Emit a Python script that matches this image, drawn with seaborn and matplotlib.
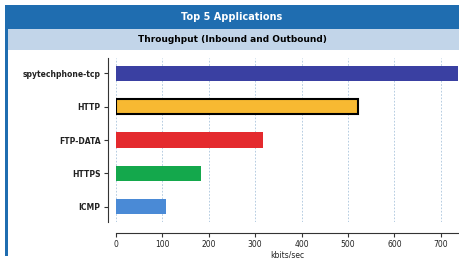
import matplotlib
matplotlib.use("Agg")
import matplotlib.pyplot as plt
import seaborn as sns
import pandas as pd
from matplotlib.patches import Rectangle

# data
apps = ["spytechphone-tcp", "HTTP", "FTP-DATA", "HTTPS", "ICMP"]
kbits = [736, 522, 316, 184, 108]
bar_colors = ["#3a40a2", "#f7b932", "#e42a2e", "#14a84c", "#4a8ad6"]
xticks = [0, 100, 200, 300, 400, 500, 600, 700]

title = "Top 5 Applications"
subtitle = "Throughput (Inbound and Outbound)"
xlabel = "kbits/sec"

W, H = 460, 258

sns.set_theme(style="white")
plt.rcParams["font.family"] = ["DejaVu Sans"]

df = pd.DataFrame({"app": apps, "kbits": kbits})

fig = plt.figure(figsize=(W / 100, H / 100), dpi=100)
fig.patch.set_facecolor("white")

# header bands
fig.patches.append(Rectangle((5 / W, 1 - 29 / H), 1, 24 / H, transform=fig.transFigure,
                             facecolor="#1f6db0", edgecolor="none", zorder=0))
fig.patches.append(Rectangle((8 / W, 1 - 50 / H), 1, 21 / H, transform=fig.transFigure,
                             facecolor="#c2d5e9", edgecolor="none", zorder=0))
# left frame border
fig.patches.append(Rectangle((5 / W, 1 - 256 / H), 3 / W, 251 / H, transform=fig.transFigure,
                             facecolor="#1f6db0", edgecolor="none", zorder=1))
fig.text(232 / W, 1 - 17 / H, title, color="white", fontsize=7, fontweight="bold",
         ha="center", va="center")
fig.text(232 / W, 1 - 40 / H, subtitle, color="black", fontsize=6.5, fontweight="bold",
         ha="center", va="center")

ax = fig.add_axes([116 / W, 1 - 222 / H, (458 - 116) / W, (222 - 58) / H])
sns.barplot(data=df, x="kbits", y="app", hue="app", palette=bar_colors, orient="h",
            width=0.45, saturation=1, legend=False, ax=ax)

# HTTP bar gets the black outline
for patch, name in zip(ax.patches, apps):
    if name == "HTTP":
        patch.set_edgecolor("black")
        patch.set_linewidth(1.5)
    else:
        patch.set_edgecolor("none")

ax.set_xlim(0, 737)
ax.set_ylim(4.45, -0.45)
ax.set_xticks(xticks)
ax.xaxis.grid(True, color="#a9c4dc", linestyle=(0, (2, 2)), linewidth=0.6)
ax.set_axisbelow(True)
ax.set_facecolor("white")

for s in ["top", "right"]:
    ax.spines[s].set_visible(False)
ax.spines["left"].set_position(("outward", 6))
ax.spines["bottom"].set_position(("outward", 8))
ax.spines["left"].set_color("#333333")
ax.spines["bottom"].set_color("#333333")
ax.spines["left"].set_linewidth(0.8)
ax.spines["bottom"].set_linewidth(0.8)

ax.tick_params(axis="both", direction="out", length=3, width=0.8, color="#333333",
               labelsize=5.5, labelcolor="#222222", pad=2)
ax.tick_params(axis="x", bottom=True)
ax.tick_params(axis="y", left=True)
for lab in ax.get_yticklabels():
    lab.set_fontweight("bold")

ax.set_ylabel("")
ax.set_xlabel(xlabel, fontsize=5.5, color="#222222", labelpad=1)

fig.savefig("out.png", dpi=100)
